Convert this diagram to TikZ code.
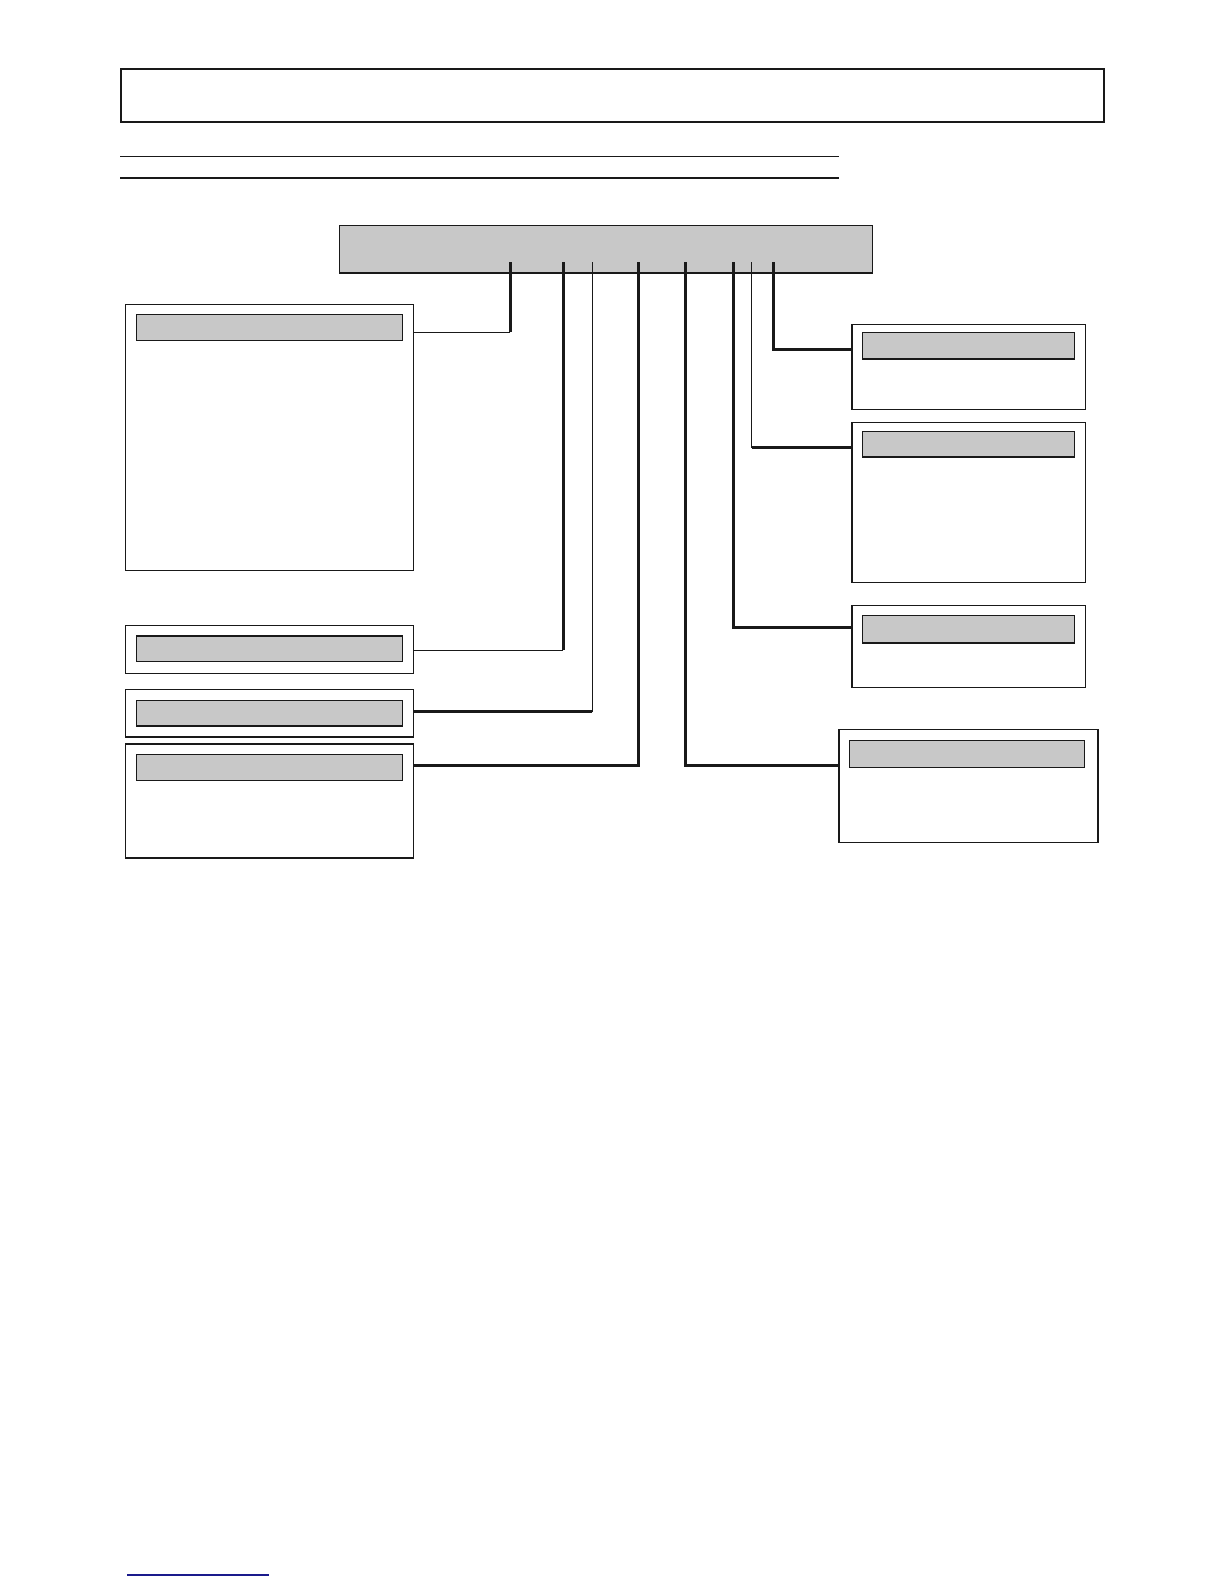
\documentclass[tikz,border=0pt]{standalone}
\usetikzlibrary{fit}
\definecolor{boxgray}{HTML}{C8C8C8}
\definecolor{linkblue}{HTML}{1A1A8C}
\tikzset{
  frame/.style={draw=black!90, line width=0.65pt, inner sep=0pt, fill=white},
  header/.style={draw=black!90, line width=0.65pt, inner sep=0pt, fill=boxgray},
  titlebox/.style={draw=black!90, line width=1.15pt, inner sep=0pt},
  rule/.style={draw=black!90, line width=0.65pt},
  thk/.style={draw=black!90, line width=1.5pt},
  thn/.style={draw=black!90, line width=0.65pt},
}
\begin{document}
\begin{tikzpicture}[x=0.5pt,y=-0.5pt]
\useasboundingbox (0,0) rectangle (1224,1584);
\fill[white] (0,0) rectangle (1224,1584);

% title box and rules
\node[titlebox, fit={(121,69) (1104,122)}] (title) {};
\coordinate (r1a) at (120,156.5); \coordinate (r1b) at (839,156.5);
\coordinate (r2a) at (120,178); \coordinate (r2b) at (839,178);
\draw[rule] (r1a) -- (r1b);
\draw[rule] (r2a) -- (r2b);

% top gray box
\node[header, fit={(339.7,225.5) (872.5,273)}] (top) {};

% left boxes
\node[frame, fit={(125.3,304.3) (413.7,570.3)}] (L1) {};
\node[header, fit={(136.3,314.3) (402.7,340.3)}] (L1h) {};
\node[frame, fit={(125.3,625.3) (413.7,673.3)}] (L2) {};
\node[header, fit={(136.4,636) (402.7,661.2)}] (L2h) {};
\node[frame, fit={(125.3,689.5) (413.7,737)}] (L3) {};
\node[header, fit={(136.4,700.6) (402.7,726)}] (L3h) {};
\node[frame, fit={(125.3,744) (413.7,858)}] (L4) {};
\node[header, fit={(136.4,754.2) (402.7,780.5)}] (L4h) {};

% right boxes
\node[frame, fit={(852,324.4) (1085.8,409.4)}] (R1) {};
\node[header, fit={(862.4,332.6) (1074.7,358.9)}] (R1h) {};
\node[frame, fit={(852,422.7) (1085.8,582.3)}] (R2) {};
\node[header, fit={(862.4,431.7) (1074.7,457)}] (R2h) {};
\node[frame, fit={(852,605.7) (1085.8,687.5)}] (R3) {};
\node[header, fit={(862.4,615.7) (1074.7,643)}] (R3h) {};
\node[frame, fit={(839,729.8) (1098,842.2)}] (R4) {};
\node[header, fit={(849.5,740.5) (1084.8,767.3)}] (R4h) {};

% stubs on the top box and bends
\coordinate (s1) at (510,262.3);   \coordinate (b1) at (510,332.3);
\coordinate (s2) at (563,262.3);   \coordinate (b2) at (563,650.3);
\coordinate (s3) at (592.3,262.3); \coordinate (b3) at (592.3,711.7);
\coordinate (s4) at (638,262.3);   \coordinate (b4) at (638,765.3);
\coordinate (s5) at (685,262.3);   \coordinate (b5) at (685,765.8);
\coordinate (s6) at (733,262.3);   \coordinate (b6) at (733,627.7);
\coordinate (s7) at (751.8,262.3); \coordinate (b7) at (751.8,447.7);
\coordinate (s8) at (773,262.3);   \coordinate (b8) at (773,349);

% connectors
\draw[thk] (s1) -- (b1);  \draw[thn] (b1) -- (b1 -| L1.east);
\draw[thk] (s2) -- (b2);  \draw[thn] (b2) -- (b2 -| L2.east);
\draw[thn] (s3) -- (b3);  \draw[thk] (b3) -- (b3 -| L3.east);
\draw[thk] (s4) -- (b4) -- (b4 -| L4.east);
\draw[thk] (s5) -- (b5) -- (b5 -| R4.west);
\draw[thk] (s6) -- (b6) -- (b6 -| R3.west);
\draw[thn] (s7) -- (b7);  \draw[thk] (b7) -- (b7 -| R2.west);
\draw[thk] (s8) -- (b8) -- (b8 -| R1.west);

% blue rule at the bottom
\coordinate (f1) at (127,1575); \coordinate (f2) at (268.5,1575);
\draw[draw=linkblue, line width=0.65pt] (f1) -- (f2);
\end{tikzpicture}
\end{document}
